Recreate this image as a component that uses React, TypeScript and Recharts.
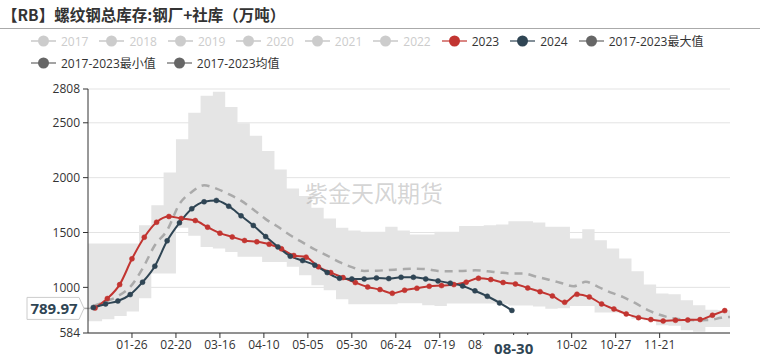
import {
  ComposedChart,
  Area,
  Line,
  XAxis,
  YAxis,
  CartesianGrid,
  ReferenceLine,
} from "recharts";

const FONT = "'Open Sans', 'Noto Sans CJK SC', sans-serif";

// month-day -> day index on the (leap year) seasonal axis
const mdToDay = (md: string) => {
  const [m, d] = md.split("-").map(Number);
  return Math.round((Date.UTC(2024, m - 1, d) - Date.UTC(2024, 0, 1)) / 86400000);
};
const dayToMd = (day: number) => {
  const t = new Date(Date.UTC(2024, 0, 1 + day));
  return `${String(t.getUTCMonth() + 1).padStart(2, "0")}-${String(t.getUTCDate()).padStart(2, "0")}`;
};
// weekly release dates (Thursdays)
const weekly = (y: number, m: number, d: number, n: number) =>
  Array.from({ length: n }, (_, i) => {
    const t = new Date(Date.UTC(y, m - 1, d + 7 * i));
    return `${String(t.getUTCMonth() + 1).padStart(2, "0")}-${String(t.getUTCDate()).padStart(2, "0")}`;
  });

const dates2023 = weekly(2023, 1, 5, 52);
const values2023 = [
  812, 898, 1025, 1260, 1457, 1594, 1646, 1628, 1609, 1549, 1494, 1460, 1427,
  1415, 1393, 1351, 1290, 1275, 1187, 1135, 1089, 1044, 1004, 980, 946, 974,
  992, 1010, 1016, 1025, 1047, 1083, 1071, 1044, 1031, 995, 961, 922, 864, 937,
  913, 849, 803, 758, 724, 706, 694, 700, 703, 706, 746, 788,
];

const dates2024 = weekly(2024, 1, 4, 35);
const values2024 = [
  816, 849, 876, 934, 1047, 1193, 1424, 1588, 1716, 1780, 1792, 1740, 1652,
  1564, 1463, 1369, 1284, 1244, 1202, 1135, 1083, 1077, 1077, 1086, 1080, 1092,
  1092, 1077, 1059, 1038, 1013, 968, 919, 858, 789.97,
];

const meanDates = [...weekly(2024, 1, 4, 52), "12-31"];
const meanValues = [
  830, 870, 920, 1004, 1170, 1384, 1520, 1760, 1870, 1930, 1900, 1850, 1790,
  1710, 1622, 1552, 1475, 1410, 1345, 1290, 1230, 1185, 1150, 1152, 1158, 1165,
  1170, 1166, 1150, 1147, 1150, 1155, 1147, 1135, 1126, 1125, 1097, 1070, 1040,
  1010, 1050, 1005, 955, 913, 858, 795, 750, 720, 706, 700, 702, 722, 730,
];

const bandDates = ["01-01", ...weekly(2024, 1, 9, 51), "12-31"];
const bandMax = [
  1400, 1400, 1400, 1400, 1567, 1749, 2047, 2349, 2592, 2747, 2784, 2644, 2495,
  2382, 2242, 2075, 1901, 1832, 1725, 1628, 1543, 1518, 1506, 1506, 1552, 1518,
  1482, 1482, 1506, 1506, 1560, 1560, 1565, 1573, 1603, 1603, 1591, 1552, 1552,
  1445, 1530, 1430, 1354, 1263, 1147, 1025, 944, 937, 882, 837, 795, 791, 791,
];
const bandMin = [
  690, 710, 740, 780, 900, 1126, 1126, 1543, 1470, 1369, 1354, 1323, 1278, 1278,
  1232, 1232, 1187, 1111, 1019, 974, 892, 846, 846, 846, 846, 855, 855, 837,
  831, 852, 852, 852, 852, 845, 835, 835, 825, 806, 810, 830, 830, 770, 770,
  765, 715, 700, 654, 650, 609, 595, 639, 639, 639,
];

const yTicks = [584, 1000, 1500, 2000, 2500, 2808];
const xTickLabels = [
  "01-26", "02-20", "03-16", "04-10", "05-05", "05-30", "06-24",
  "07-19", "08-13", "09-07", "10-02", "10-27", "11-21",
];
const coveredTicks = ["09-07"];
const currentDate = "08-30";
const latestValue = 789.97;

const legendRow1 = ["2017", "2018", "2019", "2020", "2021", "2022", "2023", "2024", "2017-2023最大值"];
const legendRow2 = ["2017-2023最小值", "2017-2023均值"];
const legendColors: Record<string, string> = {
  "2023": "#c23531",
  "2024": "#2f4554",
  "2017-2023最大值": "#666",
  "2017-2023最小值": "#666",
  "2017-2023均值": "#666",
};

const data2023 = dates2023.map((d, i) => ({ x: mdToDay(d), v: values2023[i] }));
const data2024 = dates2024.map((d, i) => ({ x: mdToDay(d), v: values2024[i] }));
const meanData = meanDates.map((d, i) => ({ x: mdToDay(d), v: meanValues[i] }));
const bandData = bandDates.map((d, i) => ({ x: mdToDay(d), range: [bandMin[i], bandMax[i]] }));

// current date is listed last so its label box is painted over its neighbours
const xTicks = [...xTickLabels.map(mdToDay), mdToDay(currentDate)];

const LegendItem = ({ label }: { label: string }) => {
  const color = legendColors[label];
  const active = !!color;
  return (
    <div style={{ display: "flex", alignItems: "center", marginRight: 11 }}>
      <svg width={25} height={14}>
        <line x1={0} y1={7} x2={25} y2={7} stroke={active ? color : "#ccc"} strokeOpacity={active ? 0.6 : 0.8} strokeWidth={2} />
        <circle cx={12.5} cy={7} r={5.5} fill={active ? color : "#ccc"} />
      </svg>
      <span style={{ marginLeft: 5, fontSize: 12, color: active ? "#333" : "#ccc", whiteSpace: "nowrap" }}>{label}</span>
    </div>
  );
};

const XTick = ({ x, y, payload }: any) => {
  const md = dayToMd(payload.value);
  if (md === currentDate) {
    return (
      <g>
        <rect x={x - 31} y={y - 5} width={63} height={24} fill="#fff" />
        <text x={x} y={y + 14} textAnchor="middle" fontSize={15} fontWeight="bold" fill="#2f4554" fontFamily={FONT}>
          {md}
        </text>
      </g>
    );
  }
  if (coveredTicks.includes(md)) return null;
  return (
    <text x={x} y={y} dy="0.71em" textAnchor="middle" fontSize={12} fill="#333" fontFamily={FONT}>
      {md}
    </text>
  );
};

const ValueMarker = ({ viewBox }: any) => {
  const x = viewBox.x;
  const cy = viewBox.y - 2;
  const l = x - 61;
  const r = x - 9;
  return (
    <g>
      <line x1={x - 4} y1={cy} x2={x + 8} y2={cy} stroke="#aaa" strokeWidth={1.5} />
      <path d={`M${l},${cy - 11} H${r} L${r + 5},${cy} L${r},${cy + 11} H${l} Z`} fill="#fff" stroke="#ccc" />
      <text x={(l + r) / 2 + 1} y={cy + 5.5} textAnchor="middle" fontSize={15} fontWeight="bold" fill="#2f4554" fontFamily={FONT}>
        {latestValue}
      </text>
    </g>
  );
};

export default function App() {
  return (
    <div style={{ position: "absolute", left: 0, top: 0, width: 766, height: 358, background: "#fff", fontFamily: FONT }}>
      <div style={{ position: "absolute", left: 2, top: 3, fontSize: 15.5, fontWeight: "bold", color: "#333", fontFamily: "'Noto Sans CJK SC', sans-serif" }}>
        【RB】螺纹钢总库存:钢厂+社库（万吨）
      </div>
      <div style={{ position: "absolute", left: 0, top: 28, width: 760, height: 1, background: "#aaa" }} />
      <div style={{ position: "absolute", left: 31, top: 32, display: "flex" }}>
        {legendRow1.map((l) => <LegendItem key={l} label={l} />)}
      </div>
      <div style={{ position: "absolute", left: 31, top: 54, display: "flex" }}>
        {legendRow2.map((l) => <LegendItem key={l} label={l} />)}
      </div>

      <ComposedChart width={766} height={358} margin={{ top: 89, right: 36, bottom: 0, left: 0 }}>
        <CartesianGrid horizontal vertical={false} stroke="#e3e3e3" />
        <XAxis
          type="number"
          dataKey="x"
          domain={[0, 365]}
          ticks={xTicks}
          tick={<XTick />}
          interval={0}
          height={25}
          tickSize={5}
          tickMargin={2}
          stroke="#333"
          allowDataOverflow
        />
        <YAxis
          type="number"
          domain={[584, 2808]}
          ticks={yTicks}
          interval={0}
          width={88}
          tickSize={5}
          tickMargin={3}
          stroke="#333"
          tick={{ fontSize: 12, fill: "#333", fontFamily: FONT }}
          allowDataOverflow
        />
        <Area
          data={bandData}
          dataKey="range"
          type="stepAfter"
          fill="#e5e5e5"
          fillOpacity={1}
          stroke="none"
          isAnimationActive={false}
          activeDot={false}
        />
        <Line
          data={meanData}
          dataKey="v"
          type="monotone"
          stroke="#aaa"
          strokeWidth={2.5}
          strokeDasharray="8 6"
          dot={false}
          activeDot={false}
          isAnimationActive={false}
        />
        <Line
          data={data2023}
          dataKey="v"
          type="monotone"
          stroke="#c23531"
          strokeWidth={2}
          dot={{ r: 2.5, fill: "#c23531", stroke: "#c23531", strokeWidth: 0.5 }}
          activeDot={false}
          isAnimationActive={false}
        />
        <Line
          data={data2024}
          dataKey="v"
          type="monotone"
          stroke="#2f4554"
          strokeWidth={2}
          dot={{ r: 2.5, fill: "#2f4554", stroke: "#2f4554", strokeWidth: 0.5 }}
          activeDot={false}
          isAnimationActive={false}
        />
        <ReferenceLine y={latestValue} stroke="none" label={<ValueMarker />} />
      </ComposedChart>

      <div style={{ position: "absolute", left: 305, top: 175, fontSize: 23, color: "rgba(160,160,160,0.45)", fontFamily: "'Noto Sans CJK SC', sans-serif", pointerEvents: "none", whiteSpace: "nowrap" }}>
        紫金天风期货
      </div>
    </div>
  );
}
